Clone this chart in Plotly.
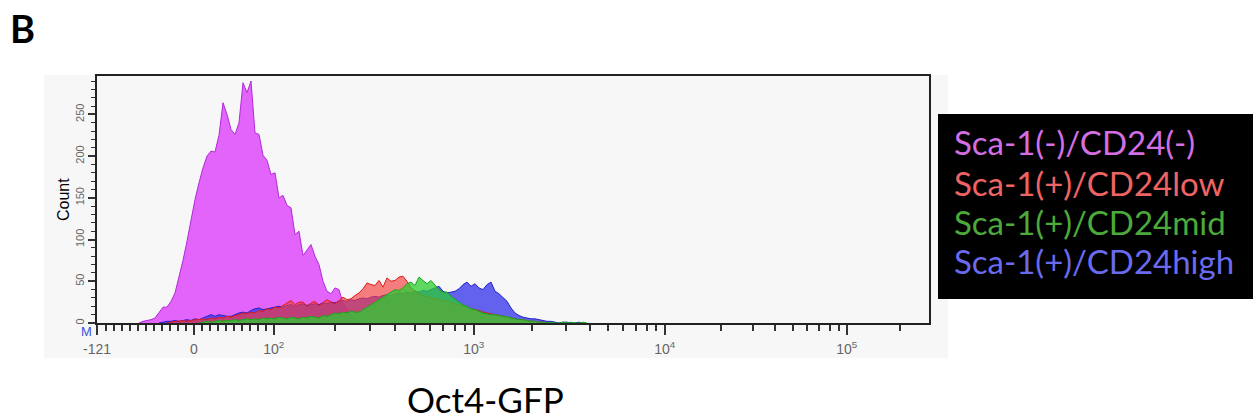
import numpy as np
import plotly.graph_objects as go

# ---------------- data (counts per display channel) ----------------
SERIES_NAMES = ["Sca-1(-)/CD24(-)", "Sca-1(+)/CD24low", "Sca-1(+)/CD24mid", "Sca-1(+)/CD24high"]

magenta_start = 10
magenta_counts = [0, 2, 3, 4, 6, 12, 19, 19, 26, 36, 54, 75, 98, 124, 148, 168, 186, 200, 206, 205,
                  225, 264, 250, 232, 226, 240, 288, 276, 290, 228, 226, 201, 195, 178, 180, 150,
                  153, 141, 138, 106, 110, 81, 88, 94, 80, 70, 50, 38, 35, 42, 40, 24, 16, 10, 5, 2, 0]

red_start = 17
red_counts = [0, 1, 2, 2, 3, 2, 3, 4, 4, 5, 4, 6, 5, 7, 6, 8, 7, 9, 10, 12, 11, 13, 12, 15, 14, 17,
              16, 19, 18, 21, 24, 27, 22, 25, 25, 20, 24, 26, 21, 24, 28, 25, 23, 27, 31, 28, 29, 33,
              36, 41, 48, 46, 45, 51, 43, 54, 50, 51, 55, 56, 50, 42, 38, 35, 33, 31, 30, 29, 28, 27,
              26, 24, 23, 22, 20, 19, 17, 16, 15, 13, 12, 11, 10, 9, 8, 7, 6, 5, 4, 4, 3, 2, 2, 1, 1, 0]

green_start = 25
green_counts = [0, 1, 2, 1, 2, 3, 2, 3, 3, 4, 3, 4, 5, 4, 5, 4, 6, 5, 6, 5, 7, 6, 5, 7, 6, 5, 7, 6,
                8, 7, 6, 9, 8, 10, 12, 11, 13, 12, 14, 13, 13, 16, 19, 22, 25, 28, 31, 34, 37, 40, 39,
                42, 47, 49, 45, 55, 51, 47, 51, 45, 40, 37, 37, 32, 28, 25, 22, 20, 17, 16, 14, 12, 11,
                10, 10, 9, 8, 8, 6, 5, 4, 4, 3, 2, 2, 1, 1, 0, 1, 0, 0, 1, 0, 1, 0, 0, 1, 0]

blue_start = 15
blue_counts = [0, 1, 2, 2, 3, 2, 3, 4, 3, 5, 4, 6, 8, 10, 8, 10, 9, 8, 8, 10, 12, 13, 12, 15, 17, 18,
               16, 17, 18, 19, 20, 19, 21, 22, 20, 22, 23, 21, 22, 23, 22, 24, 23, 25, 24, 26, 27, 26,
               28, 27, 29, 30, 29, 31, 32, 31, 33, 34, 33, 35, 36, 35, 37, 36, 38, 37, 39, 38, 40, 42,
               44, 38, 36, 37, 38, 41, 46, 49, 44, 47, 42, 40, 46, 49, 38, 35, 31, 26, 18, 12, 9, 7, 6,
               5, 5, 4, 3, 2, 2, 1, 0, 1, 1, 0, 0, 1, 0]

# axis tick values (fluorescence units)
major_tick_values = [-121, 0, 100, 1000, 10000, 100000]
major_tick_text = ["-121", "0", "10<sup>2</sup>", "10<sup>3</sup>", "10<sup>4</sup>", "10<sup>5</sup>"]
count_ticks = [0, 50, 100, 150, 200, 250]

# ---------------- display scale (linear below 100, log above) ----------------
LIN_TOP = 100.0
LIN_SLOPE = 0.8
DECADE = 200.0
CURV = 4.5
BIN_W = 4.0


def to_display(v):
    v = np.asarray(v, dtype=float)
    L = np.log10(np.maximum(v, LIN_TOP)) - 2
    logpart = LIN_SLOPE * LIN_TOP + DECADE * L - CURV * L * (L - 1)
    return np.where(v <= LIN_TOP, LIN_SLOPE * v, logpart)


AXIS_MIN = float(to_display(-121))
AXIS_MAX = AXIS_MIN + 832.0


def bin_x(start, n):
    return AXIS_MIN + BIN_W * (start + np.arange(n) + 0.5)


minor_vals = [v for v in range(-110, 100, 10) if v != 0]
for dec in [100, 1000, 10000, 100000]:
    for m in range(2, 10):
        if dec * m <= 260000:
            minor_vals.append(dec * m)

fig = go.Figure()

styles = [
    (magenta_start, magenta_counts, "rgba(226,100,250,1)", "#b02ad6"),
    (blue_start, blue_counts, "rgba(60,60,235,0.8)", "#2222cc"),
    (red_start, red_counts, "rgba(245,60,60,0.65)", "#e01818"),
    (green_start, green_counts, "rgba(40,205,50,0.75)", "#18a818"),
]
name_order = [SERIES_NAMES[0], SERIES_NAMES[3], SERIES_NAMES[1], SERIES_NAMES[2]]
for (start, counts, fillc, linec), nm in zip(styles, name_order):
    fig.add_trace(go.Scatter(
        x=bin_x(start, len(counts)), y=counts, mode="lines", name=nm,
        fill="tozeroy", fillcolor=fillc, line=dict(color=linec, width=1),
        showlegend=False, hoverinfo="skip"))

W, H = 1253, 419
ML, MR, MT, MB = 97, 324, 76, 96
PW, PH = W - ML - MR, H - MT - MB


def px(x):
    return (x - ML) / PW


def py(y):
    return (H - MB - y) / PH


fig.update_layout(
    width=W, height=H,
    margin=dict(l=ML, r=MR, t=MT, b=MB, pad=0),
    paper_bgcolor="white", plot_bgcolor="#f7f7f7",
    showlegend=False,
    font=dict(family="Liberation Sans, Arial", color="#666666", size=14),
)

fig.update_xaxes(
    range=[AXIS_MIN, AXIS_MAX], showgrid=False, zeroline=False,
    showline=True, linecolor="#222222", linewidth=1.5, mirror=True,
    tickmode="array", tickvals=to_display(major_tick_values), ticktext=major_tick_text,
    ticks="outside", ticklen=10, tickwidth=1.5, tickcolor="#333333",
    ticklabelstandoff=2,
    tickfont=dict(size=14, color="#666666"),
    minor=dict(tickvals=to_display(minor_vals), ticks="outside", ticklen=6,
               tickwidth=1.5, tickcolor="#333333", showgrid=False),
)
fig.update_yaxes(
    range=[0, 296], showgrid=False, zeroline=False,
    showline=True, linecolor="#222222", linewidth=1.5, mirror=True,
    tickmode="array", tickvals=count_ticks, ticktext=[str(v) for v in count_ticks],
    ticks="outside", ticklen=7, tickwidth=1.5, tickcolor="#333333",
    tickangle=-90, tickfont=dict(size=11, color="#666666"),
    minor=dict(tickvals=list(range(10, 300, 10)), ticks="outside", ticklen=4,
               tickwidth=1.2, tickcolor="#333333", showgrid=False),
)

shapes = [
    dict(type="rect", xref="paper", yref="paper", layer="below",
         x0=px(44), x1=px(948), y0=py(358), y1=py(75),
         fillcolor="#f7f7f7", line=dict(width=0)),
    dict(type="rect", xref="paper", yref="paper", layer="above",
         x0=px(938), x1=px(1253), y0=py(299), y1=py(114),
         fillcolor="black", line=dict(width=0)),
]
fig.update_layout(shapes=shapes)

legend_colors = ["#d36ee3", "#ee6464", "#4caa3a", "#6a6aee"]
legend_y = [142, 183, 222, 261]
ann = []
for nm, col, yy in zip(SERIES_NAMES, legend_colors, legend_y):
    ann.append(dict(text=nm, x=px(952), y=py(yy), xref="paper", yref="paper",
                    xanchor="left", yanchor="middle", showarrow=False,
                    font=dict(family="Lato", size=33, color=col)))
ann += [
    dict(text="B", x=px(22), y=py(28), xref="paper", yref="paper", xanchor="center",
         yanchor="middle", showarrow=False,
         font=dict(family="Lato", size=38, color="black", weight="bold")),
    dict(text="Count", x=px(63), y=py(200), xref="paper", yref="paper", textangle=-90,
         xanchor="center", yanchor="middle", showarrow=False,
         font=dict(family="Liberation Sans, Arial", size=16, color="black")),
    dict(text="Oct4-GFP", x=px(485), y=py(399), xref="paper", yref="paper",
         xanchor="center", yanchor="middle", showarrow=False,
         font=dict(family="Lato", size=35, color="black")),
    dict(text="M", x=px(86), y=py(331), xref="paper", yref="paper",
         xanchor="center", yanchor="middle", showarrow=False,
         font=dict(family="Liberation Sans, Arial", size=13, color="#3a55d8")),
]
fig.update_layout(annotations=ann)

fig.write_html("out.html")
